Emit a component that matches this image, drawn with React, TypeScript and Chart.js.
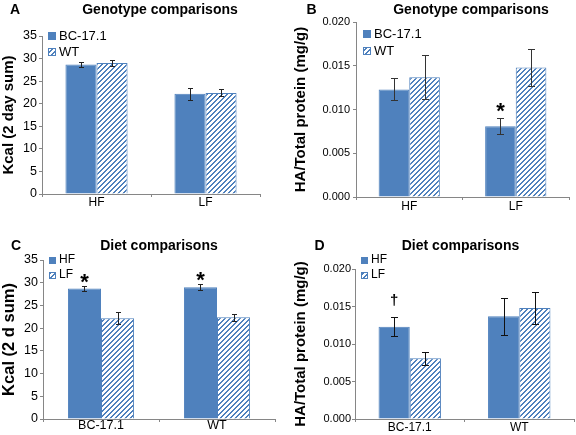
import React, { useEffect, useRef } from 'react';
import { Chart, registerables } from 'chart.js';

Chart.register(...registerables);

const FONT = '"Liberation Sans", Arial, Helvetica, sans-serif';
Chart.defaults.font.family = FONT;
Chart.defaults.color = '#000';

// ---------- data ----------
const genotypeCategories = ['HF', 'LF'];
const dietCategories = ['BC-17.1', 'WT'];

// Kcal (2 day sum), genotype grouping (categories = diet HF, LF)
const kcalBC = [28.7, 22.2];
const kcalBCErr = [0.55, 1.3];
const kcalWT = [29.0, 22.4];
const kcalWTErr = [0.65, 0.75];
const kcalBCMarks = ['', ''];
const kcalWTMarks = ['', ''];

// HA / total protein (mg/g), genotype grouping
const haBC = [0.0123, 0.0081];
const haBCErr = [0.00125, 0.0009];
const haWT = [0.0137, 0.0148];
const haWTErr = [0.0025, 0.0021];
const haBCMarks = ['', '*'];
const haWTMarks = ['', ''];

// Kcal, diet grouping (categories = genotype BC-17.1, WT)
const kcalHF = [28.7, 29.0];
const kcalHFErr = [0.55, 0.65];
const kcalLF = [22.2, 22.4];
const kcalLFErr = [1.3, 0.75];
const kcalHFMarks = ['*', '*'];
const kcalLFMarks = ['', ''];

// HA / total protein, diet grouping
const haHF = [0.0123, 0.0137];
const haHFErr = [0.00125, 0.0025];
const haLF = [0.0081, 0.0148];
const haLFErr = [0.0009, 0.0021];
const haHFMarks = ['\u2020', ''];
const haLFMarks = ['', ''];

// tick values
const kcalTicks = [0, 5, 10, 15, 20, 25, 30, 35];
const haTicks = [0, 0.005, 0.01, 0.015, 0.02];

// ---------- styling ----------
const BLUE = '#4F81BD';
const AXIS = '#868686';

function makeHatch(): CanvasPattern | string {
  const s = 5;
  const c = document.createElement('canvas');
  c.width = s;
  c.height = s;
  const g = c.getContext('2d');
  if (!g) return BLUE;
  for (let x = 0; x < s; x++) {
    for (let y = 0; y < s; y++) {
      g.fillStyle = (x + y) % s < 2 ? BLUE : '#ffffff';
      g.fillRect(x, y, 1, 1);
    }
  }
  return g.createPattern(c, 'repeat') || BLUE;
}

type Series = { label: string; values: number[]; errors: number[]; marks: string[]; hatched: boolean };
type PanelSpec = {
  letter: string;
  title: string;
  categories: string[];
  series: Series[];
  yTicks: number[];
  decimals: number;
  yTitle: string;
  left: number;
  top: number;
  width: number;
  height: number;
  pad: { left: number; right: number; top: number; bottom: number };
  yWidth: number;
  xHeight: number;
  tickSize: number;
  tickPad: number;
  xSize: number;
  xPad: number;
  yTitleSize: number;
  yTitlePad: number;
  catPct: number;
  legend: { dx: number; dy: number; row: number; box: number; size: number; gap: number };
  letterX: number;
  titleX: number;
  textY: number;
  titleSize: number;
  cap: number;
  errColor: string;
  markSize: number;
  markShift: number;
};

const errorBarPlugin = {
  id: 'errorBars',
  afterDatasetsDraw(chart: any, _args: any, o: any) {
    const { ctx } = chart;
    const yScale = chart.scales.y;
    chart.data.datasets.forEach((ds: any, di: number) => {
      const meta = chart.getDatasetMeta(di);
      meta.data.forEach((bar: any, i: number) => {
        const v = ds.data[i];
        const e = ds.errors ? ds.errors[i] : 0;
        const x = Math.round(bar.x) + 0.5;
        const yTop = Math.round(yScale.getPixelForValue(v + e)) + 0.5;
        const yBot = Math.round(yScale.getPixelForValue(v - e)) + 0.5;
        ctx.save();
        ctx.strokeStyle = o.color;
        ctx.lineWidth = 1;
        ctx.beginPath();
        ctx.moveTo(x, yTop);
        ctx.lineTo(x, yBot);
        ctx.moveTo(x - o.cap, yTop);
        ctx.lineTo(x + o.cap, yTop);
        ctx.moveTo(x - o.cap, yBot);
        ctx.lineTo(x + o.cap, yBot);
        ctx.stroke();
        const m = ds.marks ? ds.marks[i] : '';
        if (m) {
          ctx.fillStyle = '#000';
          ctx.font = `bold ${o.markSize}px ${FONT}`;
          ctx.textAlign = 'center';
          ctx.textBaseline = 'alphabetic';
          ctx.fillText(m, bar.x, yTop + o.markShift);
        }
        ctx.restore();
      });
    });
  },
};

const boxLegendPlugin = {
  id: 'boxLegend',
  afterDraw(chart: any, _args: any, o: any) {
    const { ctx, chartArea } = chart;
    chart.data.datasets.forEach((ds: any, i: number) => {
      const cy = chartArea.top + o.dy + i * o.row;
      const x = chartArea.left + o.dx;
      ctx.save();
      ctx.fillStyle = ds.backgroundColor;
      ctx.fillRect(x, Math.round(cy - o.box / 2), o.box, o.box);
      ctx.strokeStyle = BLUE;
      ctx.lineWidth = 1;
      ctx.strokeRect(x + 0.5, Math.round(cy - o.box / 2) + 0.5, o.box - 1, o.box - 1);
      ctx.fillStyle = '#000';
      ctx.font = `${o.size}px ${FONT}`;
      ctx.textAlign = 'left';
      ctx.textBaseline = 'middle';
      ctx.fillText(ds.label, x + o.box + o.gap, cy);
      ctx.restore();
    });
  },
};

const panelTextPlugin = {
  id: 'panelText',
  afterDraw(chart: any, _args: any, o: any) {
    const { ctx } = chart;
    ctx.save();
    ctx.fillStyle = '#000';
    ctx.font = `bold ${o.size}px ${FONT}`;
    ctx.textAlign = 'center';
    ctx.textBaseline = 'middle';
    ctx.fillText(o.letter, o.letterX, o.y);
    ctx.fillText(o.title, o.titleX, o.y);
    ctx.restore();
  },
};

function makeConfig(p: PanelSpec): any {
  const hatch = makeHatch();
  return {
    type: 'bar',
    data: {
      labels: p.categories,
      datasets: p.series.map((s) => ({
        label: s.label,
        data: s.values,
        errors: s.errors,
        marks: s.marks,
        backgroundColor: s.hatched ? hatch : BLUE,
        borderColor: BLUE,
        borderWidth: 1,
        categoryPercentage: p.catPct,
        barPercentage: 1,
      })),
    },
    options: {
      responsive: false,
      animation: false,
      events: [],
      layout: { padding: p.pad },
      plugins: {
        legend: { display: false },
        title: { display: false },
        tooltip: { enabled: false },
        errorBars: { cap: p.cap, color: p.errColor, markSize: p.markSize, markShift: p.markShift },
        boxLegend: p.legend,
        panelText: { letter: p.letter, title: p.title, letterX: p.letterX, titleX: p.titleX, y: p.textY, size: p.titleSize },
      },
      scales: {
        x: {
          type: 'category',
          offset: true,
          grid: { offset: true, drawOnChartArea: false, drawTicks: true, tickLength: 3, color: AXIS },
          border: { display: true, color: AXIS, width: 1 },
          ticks: { font: { size: p.xSize }, color: '#000', padding: p.xPad, maxRotation: 0, autoSkip: false },
          afterFit: (s: any) => {
            s.height = p.xHeight;
          },
        },
        y: {
          min: p.yTicks[0],
          max: p.yTicks[p.yTicks.length - 1],
          grid: { drawOnChartArea: false, drawTicks: true, tickLength: 3, color: AXIS },
          border: { display: true, color: AXIS, width: 1 },
          ticks: {
            font: { size: p.tickSize },
            color: '#000',
            padding: p.tickPad,
            callback: (v: any) => Number(v).toFixed(p.decimals),
          },
          afterBuildTicks: (s: any) => {
            s.ticks = p.yTicks.map((v) => ({ value: v }));
          },
          title: {
            display: true,
            text: p.yTitle,
            color: '#000',
            font: { size: p.yTitleSize, weight: 'bold' },
            padding: { top: p.yTitlePad, bottom: 0 },
          },
          afterFit: (s: any) => {
            s.width = p.yWidth;
          },
        },
      },
    },
    plugins: [errorBarPlugin, boxLegendPlugin, panelTextPlugin],
  };
}

const panels: PanelSpec[] = [
  {
    letter: 'A',
    title: 'Genotype comparisons',
    categories: genotypeCategories,
    series: [
      { label: 'BC-17.1', values: kcalBC, errors: kcalBCErr, marks: kcalBCMarks, hatched: false },
      { label: 'WT', values: kcalWT, errors: kcalWTErr, marks: kcalWTMarks, hatched: true },
    ],
    yTicks: kcalTicks,
    decimals: 0,
    yTitle: 'Kcal (2 day sum)',
    left: 0,
    top: 0,
    width: 288,
    height: 217,
    pad: { left: 0, right: 28, top: 36, bottom: 0 },
    yWidth: 42,
    xHeight: 23,
    tickSize: 12.5,
    tickPad: 2,
    xSize: 12,
    xPad: -2,
    yTitleSize: 15,
    yTitlePad: 0,
    catPct: 0.57,
    legend: { dx: 6, dy: 0, row: 16, box: 8, size: 13, gap: 3 },
    letterX: 15,
    titleX: 160,
    textY: 10,
    titleSize: 14,
    cap: 2.5,
    errColor: '#222',
    markSize: 22,
    markShift: 2,
  },
  {
    letter: 'B',
    title: 'Genotype comparisons',
    categories: genotypeCategories,
    series: [
      { label: 'BC-17.1', values: haBC, errors: haBCErr, marks: haBCMarks, hatched: false },
      { label: 'WT', values: haWT, errors: haWTErr, marks: haWTMarks, hatched: true },
    ],
    yTicks: haTicks,
    decimals: 3,
    yTitle: 'HA/Total protein (mg/g)',
    left: 288,
    top: 0,
    width: 288,
    height: 217,
    pad: { left: 0, right: 7, top: 22, bottom: 0 },
    yWidth: 68,
    xHeight: 20,
    tickSize: 11,
    tickPad: 3,
    xSize: 12,
    xPad: -1,
    yTitleSize: 15,
    yTitlePad: 4,
    catPct: 0.575,
    legend: { dx: 7, dy: 12, row: 17, box: 8, size: 13, gap: 3 },
    letterX: 23.5,
    titleX: 183,
    textY: 10,
    titleSize: 14,
    cap: 3.5,
    errColor: '#333',
    markSize: 22,
    markShift: -1,
  },
  {
    letter: 'C',
    title: 'Diet comparisons',
    categories: dietCategories,
    series: [
      { label: 'HF', values: kcalHF, errors: kcalHFErr, marks: kcalHFMarks, hatched: false },
      { label: 'LF', values: kcalLF, errors: kcalLFErr, marks: kcalLFMarks, hatched: true },
    ],
    yTicks: kcalTicks,
    decimals: 0,
    yTitle: 'Kcal (2 d sum)',
    left: 0,
    top: 217,
    width: 288,
    height: 218,
    pad: { left: 0, right: 13, top: 43, bottom: 0 },
    yWidth: 43,
    xHeight: 16,
    tickSize: 12.5,
    tickPad: 2,
    xSize: 12.5,
    xPad: -3.5,
    yTitleSize: 16.5,
    yTitlePad: 0,
    catPct: 0.57,
    legend: { dx: 6, dy: 0, row: 15, box: 7, size: 12, gap: 3 },
    letterX: 16,
    titleX: 159,
    textY: 29,
    titleSize: 14,
    cap: 2.5,
    errColor: '#222',
    markSize: 22,
    markShift: 2.5,
  },
  {
    letter: 'D',
    title: 'Diet comparisons',
    categories: dietCategories,
    series: [
      { label: 'HF', values: haHF, errors: haHFErr, marks: haHFMarks, hatched: false },
      { label: 'LF', values: haLF, errors: haLFErr, marks: haLFMarks, hatched: true },
    ],
    yTicks: haTicks,
    decimals: 3,
    yTitle: 'HA/Total protein (mg/g)',
    left: 288,
    top: 217,
    width: 288,
    height: 218,
    pad: { left: 0, right: 2, top: 52, bottom: 0 },
    yWidth: 67,
    xHeight: 16,
    tickSize: 11,
    tickPad: 1,
    xSize: 12,
    xPad: -1.7,
    yTitleSize: 15,
    yTitlePad: 3.5,
    catPct: 0.57,
    legend: { dx: 6, dy: -9, row: 15, box: 7, size: 12, gap: 3 },
    letterX: 31.5,
    titleX: 172.5,
    textY: 29,
    titleSize: 14,
    cap: 3.5,
    errColor: '#111',
    markSize: 15,
    markShift: -13,
  },
];

function Panel({ spec }: { spec: PanelSpec }) {
  const ref = useRef<HTMLCanvasElement>(null);
  useEffect(() => {
    if (!ref.current) return;
    const chart = new Chart(ref.current, makeConfig(spec));
    return () => chart.destroy();
  }, [spec]);
  return (
    <canvas
      ref={ref}
      width={spec.width}
      height={spec.height}
      style={{ position: 'absolute', left: spec.left, top: spec.top, width: spec.width, height: spec.height }}
    />
  );
}

export default function App() {
  return (
    <div style={{ position: 'fixed', left: 0, top: 0, width: 576, height: 435, background: '#fff', overflow: 'hidden' }}>
      {panels.map((p) => (
        <Panel key={p.letter} spec={p} />
      ))}
    </div>
  );
}
